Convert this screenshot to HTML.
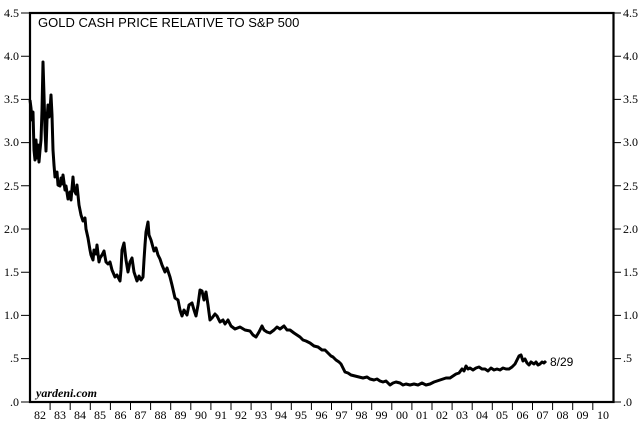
<!DOCTYPE html>
<html><head><style>body{margin:0;background:#fff}svg{display:block}text{font-family:"Liberation Serif",serif;font-size:12px;fill:#000}</style></head><body>
<svg width="643" height="424" viewBox="0 0 643 424">
<rect x="30" y="13" width="583.5" height="389" fill="none" stroke="#000" stroke-width="2.2"/>
<text x="38" y="27" style="font-family:'Liberation Sans',sans-serif;font-size:13px">GOLD CASH PRICE RELATIVE TO S&amp;P 500</text>
<text x="36" y="397" style="font-weight:bold;font-style:italic;font-size:12px">yardeni.com</text>
<g stroke="#000" stroke-width="1">
<path d="M21 13H30M21 56.2H30M21 99.4H30M21 142.6H30M21 185.8H30M21 229H30M21 272.2H30M21 315.4H30M21 358.6H30M21 402H30"/>
<path d="M613 13H621M613 56.2H621M613 99.4H621M613 142.6H621M613 185.8H621M613 229H621M613 272.2H621M613 315.4H621M613 358.6H621M613 402H621"/>
<path d="M50.1 402V410M70.2 402V410M90.3 402V410M110.4 402V410M130.5 402V410M150.6 402V410M170.7 402V410M190.8 402V410M210.9 402V410M231 402V410M251.1 402V410M271.2 402V410M291.3 402V410M311.4 402V410M331.5 402V410M351.6 402V410M371.7 402V410M391.8 402V410M411.9 402V410M432 402V410M452.1 402V410M472.2 402V410M492.3 402V410M512.4 402V410M532.5 402V410M552.6 402V410M572.7 402V410M592.8 402V410"/>
</g>
<g text-anchor="end">
<text x="19" y="17">4.5</text><text x="19" y="60">4.0</text><text x="19" y="103">3.5</text><text x="19" y="146">3.0</text><text x="19" y="190">2.5</text><text x="19" y="233">2.0</text><text x="19" y="276">1.5</text><text x="19" y="319">1.0</text><text x="19" y="362">.5</text><text x="19" y="406">.0</text>
</g>
<g>
<text x="623" y="17">4.5</text><text x="623" y="60">4.0</text><text x="623" y="103">3.5</text><text x="623" y="146">3.0</text><text x="623" y="190">2.5</text><text x="623" y="233">2.0</text><text x="623" y="276">1.5</text><text x="623" y="319">1.0</text><text x="623" y="362">.5</text><text x="623" y="406">.0</text>
</g>
<g text-anchor="middle">
<text x="40" y="419">82</text><text x="60" y="419">83</text><text x="80" y="419">84</text><text x="100" y="419">85</text><text x="120.5" y="419">86</text><text x="140.5" y="419">87</text><text x="160.5" y="419">88</text><text x="180.5" y="419">89</text><text x="201" y="419">90</text><text x="221" y="419">91</text><text x="241" y="419">92</text><text x="261" y="419">93</text><text x="281" y="419">94</text><text x="301" y="419">95</text><text x="321.5" y="419">96</text><text x="341.5" y="419">97</text><text x="361.5" y="419">98</text><text x="381.5" y="419">99</text><text x="402" y="419">00</text><text x="422" y="419">01</text><text x="442" y="419">02</text><text x="462" y="419">03</text><text x="482" y="419">04</text><text x="502" y="419">05</text><text x="522.5" y="419">06</text><text x="542.5" y="419">07</text><text x="562.5" y="419">08</text><text x="582.5" y="419">09</text><text x="603" y="419">10</text>
</g>
<text x="550" y="366" style="font-family:'Liberation Sans',sans-serif;font-size:12px">8/29</text>
<path fill="none" stroke="#000" stroke-width="3" stroke-linejoin="round" d="M30 100 L31 108 L32 120 L33 112 L34 150 L35 160 L36 140 L37 158 L38 145 L39 162 L40 150 L41 140 L42 110 L43 62 L44 95 L45 130 L46 151 L47 120 L48 105 L49 117 L50 110 L51 95 L52 115 L53 150 L54 165 L55 177 L57 172 L58 185 L60 186 L61 178 L62 184 L63 175 L65 190 L66 186 L68 199 L70 192 L71 200 L73 177 L74 190 L76 194 L77 185 L79 205 L81 215 L83 221 L85 218 L86 229 L88 238 L90 250 L91 255 L93 260 L94 250 L96 254 L97 245 L99 262 L100 258 L102 255 L104 251 L106 262 L108 264 L110 262 L112 270 L115 277 L117 275 L120 281 L121 270 L122 250 L124 243 L126 260 L128 272 L130 262 L132 258 L134 272 L137 281 L139 276 L141 280 L143 277 L144 260 L145 245 L146 232 L148 222 L149 235 L151 240 L154 251 L156 248 L158 255 L160 259 L162 265 L165 272 L167 268 L170 277 L172 285 L175 298 L178 300 L180 310 L182 316 L184 310 L187 315 L189 305 L192 303 L194 310 L196 316 L198 305 L200 290 L202 291 L204 300 L206 292 L208 305 L210 320 L212 318 L215 314 L217 316 L220 322 L223 320 L225 324 L228 320 L231 326 L235 329 L240 327 L245 330 L250 331 L253 335 L256 337 L259 332 L262 326 L264 330 L267 332 L270 333 L274 330 L277 327 L280 329 L284 326 L287 330 L290 330 L294 333 L297 335 L300 337 L303 340 L306 341 L310 343 L314 346 L318 347 L322 350 L325 350 L328 353 L331 356 L333 357 L336 360 L339 362 L341 364 L343 368 L345 372 L348 373 L351 375 L355 376 L359 377 L363 378 L367 377 L370 379 L374 380 L377 379 L380 381 L383 382 L386 381 L390 385 L393 383 L396 382 L400 383 L403 385 L406 384 L410 385 L414 384 L418 385 L422 383 L426 385 L430 384 L434 382 L437 381 L440 380 L443 379 L446 378 L450 378 L453 376 L456 374 L459 373 L462 369 L464 371 L466 366 L468 369 L470 368 L473 370 L476 368 L479 367 L482 369 L485 369 L488 371 L491 368 L494 370 L497 369 L500 370 L503 368 L506 369 L509 369 L512 367 L515 364 L517 360 L519 356 L521 355 L523 361 L525 359 L527 363 L529 365 L531 362 L534 364 L536 362 L538 365 L540 364 L542 362 L544 363 L546 361"/>
</svg>
</body></html>
